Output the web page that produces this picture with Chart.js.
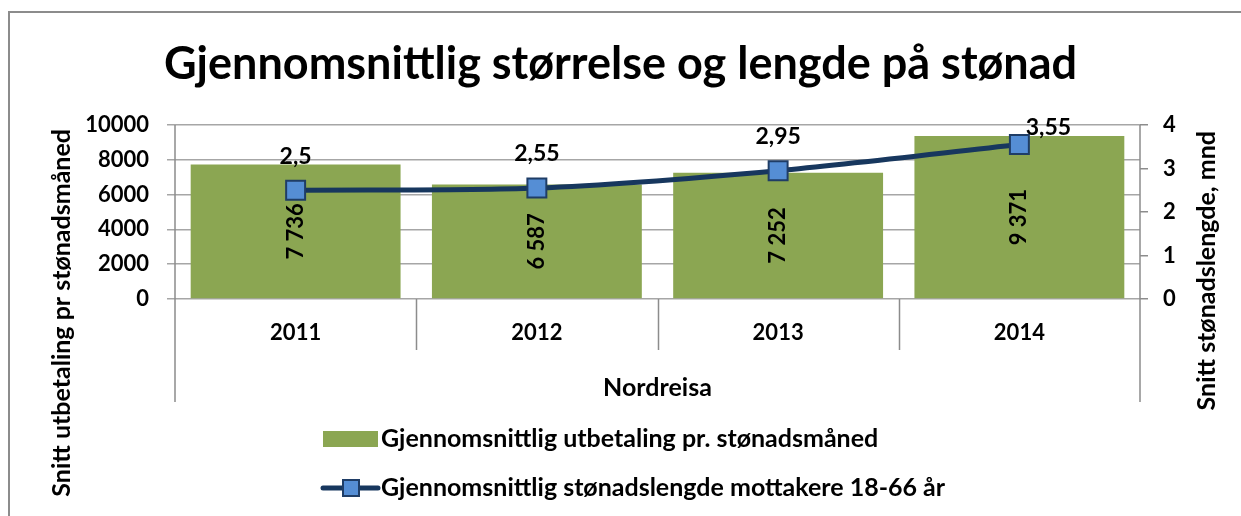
<!DOCTYPE html>
<html lang="no">
<head>
<meta charset="utf-8">
<title>Gjennomsnittlig størrelse og lengde på stønad</title>
<script src="https://cdn.jsdelivr.net/npm/chart.js@4/dist/chart.umd.min.js"></script>
<style>
	html, body { margin: 0; padding: 0; background: #fff; }
	#wrap { width: 1241px; height: 516px; position: relative; }
</style>
</head>
<body>
<div id="wrap"><canvas id="stonadChart" width="1241" height="516"></canvas></div>
<script>
// Chart data
const years = ["2011", "2012", "2013", "2014"];
const payments = [7736, 6587, 7252, 9371];
const durations = [2.5, 2.55, 2.95, 3.55];
const paymentTicks = [0, 2000, 4000, 6000, 8000, 10000];
const durationTicks = [0, 1, 2, 3, 4];

const groupLabel = "Nordreisa";
const paymentLabel = "Gjennomsnittlig utbetaling pr. stønadsmåned";
const durationLabel = "Gjennomsnittlig stønadslengde mottakere 18-66 år";
const paymentAxisTitle = "Snitt utbetaling pr stønadsmåned";
const durationAxisTitle = "Snitt stønadslengde, mnd";

const FONT = "Lato, 'Open Sans', sans-serif";
const GREEN = "#8BA652";
const NAVY = "#17375E";
const MARKER = "#558ED5";
const MARKER_EDGE = "#1F3D66";
const AXIS_GREY = "#8C8C8C";

// 7 736 / 2,55
function fmtThousands(v) {
	return String(v).replace(/\B(?=(\d{3})+(?!\d))/g, " ");
}
function fmtDecimal(v) {
	return String(v).replace(".", ",");
}

// Outer frame, axis lines and category separators
const framePlugin = {
	id: "frame",
	beforeDraw(chart) {
		const ctx = chart.ctx;
		ctx.save();
		ctx.strokeStyle = AXIS_GREY;
		ctx.lineWidth = 2;
		ctx.beginPath();
		ctx.moveTo(9, chart.height);
		ctx.lineTo(9, 12);
		ctx.lineTo(chart.width, 12);
		ctx.stroke();
		ctx.restore();
	},
	afterDraw(chart) {
		const ctx = chart.ctx;
		const area = chart.chartArea;
		const x = chart.scales.x;
		ctx.save();
		ctx.strokeStyle = AXIS_GREY;
		ctx.lineWidth = 1.5;
		ctx.beginPath();
		// outer verticals run down past the group label
		[area.left, area.right].forEach(function (px) {
			ctx.moveTo(px, area.top);
			ctx.lineTo(px, area.bottom + 103);
		});
		// separators between years
		for (let i = 0; i < years.length - 1; i++) {
			const px = Math.round((x.getPixelForValue(i) + x.getPixelForValue(i + 1)) / 2) + 0.5;
			ctx.moveTo(px, area.bottom);
			ctx.lineTo(px, area.bottom + 51);
		}
		ctx.stroke();
		ctx.restore();
	},
};

// Value labels on bars and line points
const valueLabelPlugin = {
	id: "valueLabels",
	afterDatasetsDraw(chart) {
		const ctx = chart.ctx;
		const area = chart.chartArea;
		ctx.save();
		ctx.fillStyle = "#000";
		ctx.textAlign = "center";
		ctx.textBaseline = "middle";

		ctx.font = "bold 22px " + FONT;
		chart.getDatasetMeta(1).data.forEach(function (bar, i) {
			const cy = (bar.y + bar.base) / 2;
			ctx.save();
			ctx.translate(bar.x, cy);
			ctx.rotate(-Math.PI / 2);
			ctx.fillText(fmtThousands(payments[i]), 0, 0);
			ctx.restore();
		});

		ctx.font = "bold 23px " + FONT;
		chart.getDatasetMeta(0).data.forEach(function (pt, i) {
			let lx = pt.x;
			let ly = pt.y - 34;
			if (ly < area.top) {
				lx = pt.x + 29;
				ly = pt.y - 17;
			}
			ctx.fillText(fmtDecimal(durations[i]), lx, ly);
		});
		ctx.restore();
	},
};

// Rotated axis titles, legend
const sideTextPlugin = {
	id: "sideText",
	afterDraw(chart) {
		const ctx = chart.ctx;
		const area = chart.chartArea;
		ctx.save();
		ctx.fillStyle = "#000";
		ctx.font = "bold 25px " + FONT;
		ctx.textBaseline = "middle";
		ctx.textAlign = "right";

		ctx.save();
		ctx.translate(62, area.top + 4);
		ctx.rotate(-Math.PI / 2);
		ctx.fillText(paymentAxisTitle, 0, 0);
		ctx.restore();

		ctx.save();
		ctx.translate(1207, area.top + 6);
		ctx.rotate(-Math.PI / 2);
		ctx.fillText(durationAxisTitle, 0, 0);
		ctx.restore();

		// legend
		const ds = chart.data.datasets;
		const lx = 323;
		const row1 = area.bottom + 140;
		const row2 = area.bottom + 189;
		ctx.textAlign = "left";

		ctx.fillStyle = ds[1].backgroundColor;
		ctx.fillRect(lx, row1 - 8, 55, 16);
		ctx.fillStyle = "#000";
		ctx.fillText(ds[1].label, lx + 58, row1);

		ctx.strokeStyle = ds[0].borderColor;
		ctx.lineWidth = 5;
		ctx.lineCap = "round";
		ctx.beginPath();
		ctx.moveTo(lx, row2);
		ctx.lineTo(lx + 55, row2);
		ctx.stroke();
		ctx.fillStyle = ds[0].pointBackgroundColor;
		ctx.strokeStyle = ds[0].pointBorderColor;
		ctx.lineWidth = 2;
		ctx.fillRect(lx + 20, row2 - 8, 16, 16);
		ctx.strokeRect(lx + 20, row2 - 8, 16, 16);
		ctx.fillStyle = "#000";
		ctx.fillText(ds[0].label, lx + 58, row2);
		ctx.restore();
	},
};

document.addEventListener("DOMContentLoaded", function () {
	const ctx = document.getElementById("stonadChart").getContext("2d");

	new Chart(ctx, {
		type: "bar",
		data: {
			labels: years,
			datasets: [
				{
					type: "line",
					label: durationLabel,
					data: durations,
					yAxisID: "y1",
					order: 0,
					borderColor: NAVY,
					borderWidth: 5,
					tension: 0.3,
					pointStyle: "rect",
					pointRadius: 13.4,
					pointHoverRadius: 13.4,
					pointBackgroundColor: MARKER,
					pointBorderColor: MARKER_EDGE,
					pointBorderWidth: 2,
				},
				{
					type: "bar",
					label: paymentLabel,
					data: payments,
					yAxisID: "y",
					order: 1,
					backgroundColor: GREEN,
					borderWidth: 0,
					barPercentage: 0.87,
					categoryPercentage: 1,
				},
			],
		},
		options: {
			responsive: false,
			animation: false,
			events: [],
			font: { family: FONT },
			layout: { padding: 0 },
			plugins: {
				legend: { display: false },
				tooltip: { enabled: false },
				title: {
					display: true,
					text: "Gjennomsnittlig størrelse og lengde på stønad",
					color: "#000",
					font: { family: FONT, size: 45, weight: "bold", lineHeight: 1.2 },
					padding: { top: 37, bottom: 34 },
				},
			},
			scales: {
				x: {
					offset: true,
					grid: { display: false, drawTicks: false },
					border: { display: false },
					ticks: {
						color: "#000",
						padding: 21,
						font: { family: FONT, size: 22, weight: "bold" },
					},
					title: {
						display: true,
						text: groupLabel,
						color: "#000",
						font: { family: FONT, size: 25, weight: "bold" },
						padding: { top: 0, bottom: 113 },
					},
					afterFit: function (scale) {
						scale.height = 217;
					},
				},
				y: {
					position: "left",
					min: paymentTicks[0],
					max: paymentTicks[paymentTicks.length - 1],
					afterBuildTicks: function (scale) {
						scale.ticks = paymentTicks.map((v) => ({ value: v }));
					},
					grid: { color: "#A6A6A6", lineWidth: 1.5, tickLength: 8 },
					border: { display: false },
					ticks: {
						color: "#000",
						padding: 18,
						font: { family: FONT, size: 22, weight: "bold" },
						callback: function (value) {
							return String(value);
						},
					},
					afterFit: function (scale) {
						scale.width = 175;
					},
				},
				y1: {
					position: "right",
					min: durationTicks[0],
					max: durationTicks[durationTicks.length - 1],
					afterBuildTicks: function (scale) {
						scale.ticks = durationTicks.map((v) => ({ value: v }));
					},
					grid: { drawOnChartArea: false, color: AXIS_GREY, lineWidth: 1.5, tickLength: 8 },
					border: { display: false },
					ticks: {
						color: "#000",
						padding: 15,
						font: { family: FONT, size: 22, weight: "bold" },
						callback: function (value) {
							return String(value);
						},
					},
					afterFit: function (scale) {
						scale.width = 101;
					},
				},
			},
		},
		plugins: [framePlugin, valueLabelPlugin, sideTextPlugin],
	});
});
</script>
</body>
</html>
